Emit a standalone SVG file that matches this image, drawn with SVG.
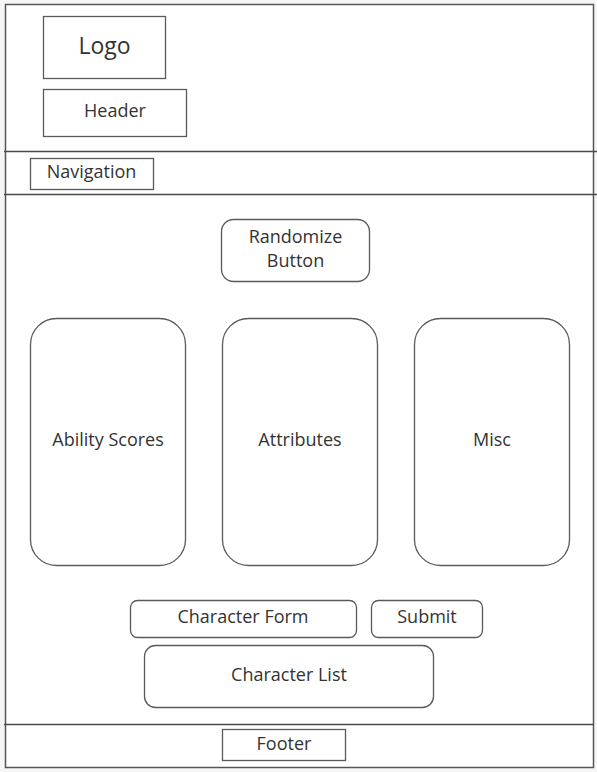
<svg xmlns="http://www.w3.org/2000/svg" width="597" height="772" viewBox="0 0 597 772">
<style>
.box{fill:#fff;stroke:#5a5a5a;stroke-width:1.3}
.line{stroke:#4a4a4a;stroke-width:1.3;fill:none}
.t{font-family:"Open Sans","Noto Sans",sans-serif;font-size:18px;fill:#333;text-anchor:middle;dominant-baseline:central}
</style>
<rect width="597" height="772" fill="#f6f6f6"/>
<g id="frame">
<rect x="5.5" y="4.5" width="588" height="763" fill="#fff" stroke="#555" stroke-width="1.5"/>
</g>
<g id="connectors">
<line class="line" x1="4" y1="151.5" x2="597" y2="151.5"/>
<line class="line" x1="4" y1="194.5" x2="597" y2="194.5"/>
<line class="line" x1="4" y1="724.5" x2="594" y2="724.5"/>
</g>
<g id="logo"><rect class="box" x="43.5" y="16.5" width="122" height="62"/><text class="t" x="104.5" y="45" style="font-size:23px">Logo</text></g>
<g id="header"><rect class="box" x="43.5" y="89.5" width="143" height="47"/><text class="t" x="115" y="110">Header</text></g>
<g id="navigation"><rect class="box" x="30.5" y="158.5" width="123" height="31"/><text class="t" x="91.5" y="171">Navigation</text></g>
<g id="randomize"><rect class="box" x="221.5" y="219.5" width="148" height="62" rx="12"/><text class="t" x="295.5" y="236">Randomize</text><text class="t" x="295.5" y="260">Button</text></g>
<g id="ability"><rect class="box" x="30.5" y="318.5" width="155" height="247" rx="26"/><text class="t" x="108" y="439">Ability Scores</text></g>
<g id="attributes"><rect class="box" x="222.5" y="318.5" width="155" height="247" rx="26"/><text class="t" x="300" y="439">Attributes</text></g>
<g id="misc"><rect class="box" x="414.5" y="318.5" width="155" height="247" rx="26"/><text class="t" x="492" y="439">Misc</text></g>
<g id="charform"><rect class="box" x="130.5" y="600.5" width="226" height="37" rx="7"/><text class="t" x="243" y="616">Character Form</text></g>
<g id="submit"><rect class="box" x="371.5" y="600.5" width="111" height="37" rx="7"/><text class="t" x="427" y="616">Submit</text></g>
<g id="charlist"><rect class="box" x="144.5" y="645.5" width="289" height="62" rx="11"/><text class="t" x="289" y="674">Character List</text></g>
<g id="footer"><rect class="box" x="222.5" y="729.5" width="123" height="31"/><text class="t" x="284" y="743">Footer</text></g>
</svg>
